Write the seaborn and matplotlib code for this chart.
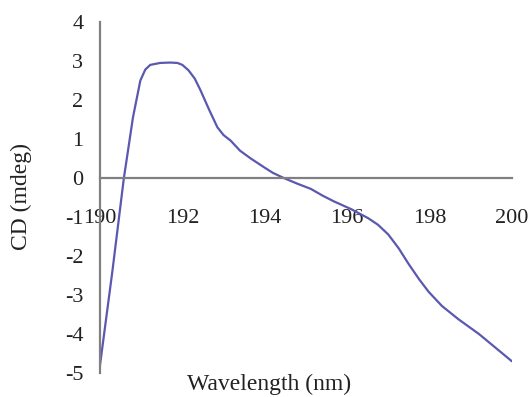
import matplotlib
matplotlib.use("Agg")
import matplotlib.pyplot as plt
import seaborn as sns
import pandas as pd

wavelength = [190.0, 190.3, 190.58, 190.68, 190.8, 190.98, 191.1, 191.22, 191.46, 191.7,
              191.88, 192.0, 192.15, 192.3, 192.44, 192.65, 192.85, 193.0, 193.17, 193.4,
              193.66, 194.02, 194.2, 194.46, 194.8, 195.12, 195.4, 195.68, 196.1, 196.51,
              196.75, 197.0, 197.25, 197.49, 197.75, 197.98, 198.3, 198.7, 199.2, 199.6, 200.0]
cd = [-4.8, -2.4, 0.0, 0.7, 1.55, 2.5, 2.78, 2.9, 2.95, 2.96,
      2.95, 2.9, 2.76, 2.55, 2.25, 1.75, 1.3, 1.1, 0.96, 0.7,
      0.5, 0.25, 0.13, 0.0, -0.15, -0.28, -0.45, -0.6, -0.8, -1.03,
      -1.2, -1.45, -1.8, -2.2, -2.6, -2.92, -3.28, -3.62, -4.0, -4.35, -4.7]
xticks = [190, 192, 194, 196, 198, 200]
yticks = [-5, -4, -3, -2, -1, 0, 1, 2, 3, 4]

df = pd.DataFrame({"Wavelength (nm)": wavelength, "CD (mdeg)": cd})

sns.set_style("white")
plt.rcParams["font.family"] = ["Liberation Serif", "DejaVu Serif"]

fig = plt.figure(figsize=(5.31, 3.97), dpi=100)
ax = fig.add_axes([0.1883, 0.0605, 0.7757, 0.8841])
sns.lineplot(data=df, x="Wavelength (nm)", y="CD (mdeg)", ax=ax,
             color="#5a58b0", linewidth=1.6, sort=False)

ax.set_xlim(190, 200)
ax.set_ylim(-5, 4)
ax.set_xticks(xticks)
ax.set_yticks(yticks)
ax.set_xticklabels([str(t) for t in xticks])
ax.set_yticklabels([str(t) for t in yticks])

ax.spines["right"].set_visible(False)
ax.spines["top"].set_visible(False)
ax.spines["bottom"].set_position(("data", 0))
for s in ["left", "bottom"]:
    ax.spines[s].set_color("#808080")
    ax.spines[s].set_linewidth(1.6)

ax.tick_params(axis="both", direction="in", length=3, width=1.2, color="#707070",
               labelsize=16, labelcolor="#222222")
ax.tick_params(axis="x", pad=22)
ax.tick_params(axis="y", pad=12)

ax.set_xlabel("")
ax.set_ylabel("")
fig.text(0.507, 0.032, "Wavelength (nm)", ha="center", va="center", fontsize=17, color="#222222")
fig.text(0.041, 0.506, "CD (mdeg)", ha="center", va="center", rotation=90, fontsize=17, color="#222222")

fig.savefig("out.png", dpi=100)
